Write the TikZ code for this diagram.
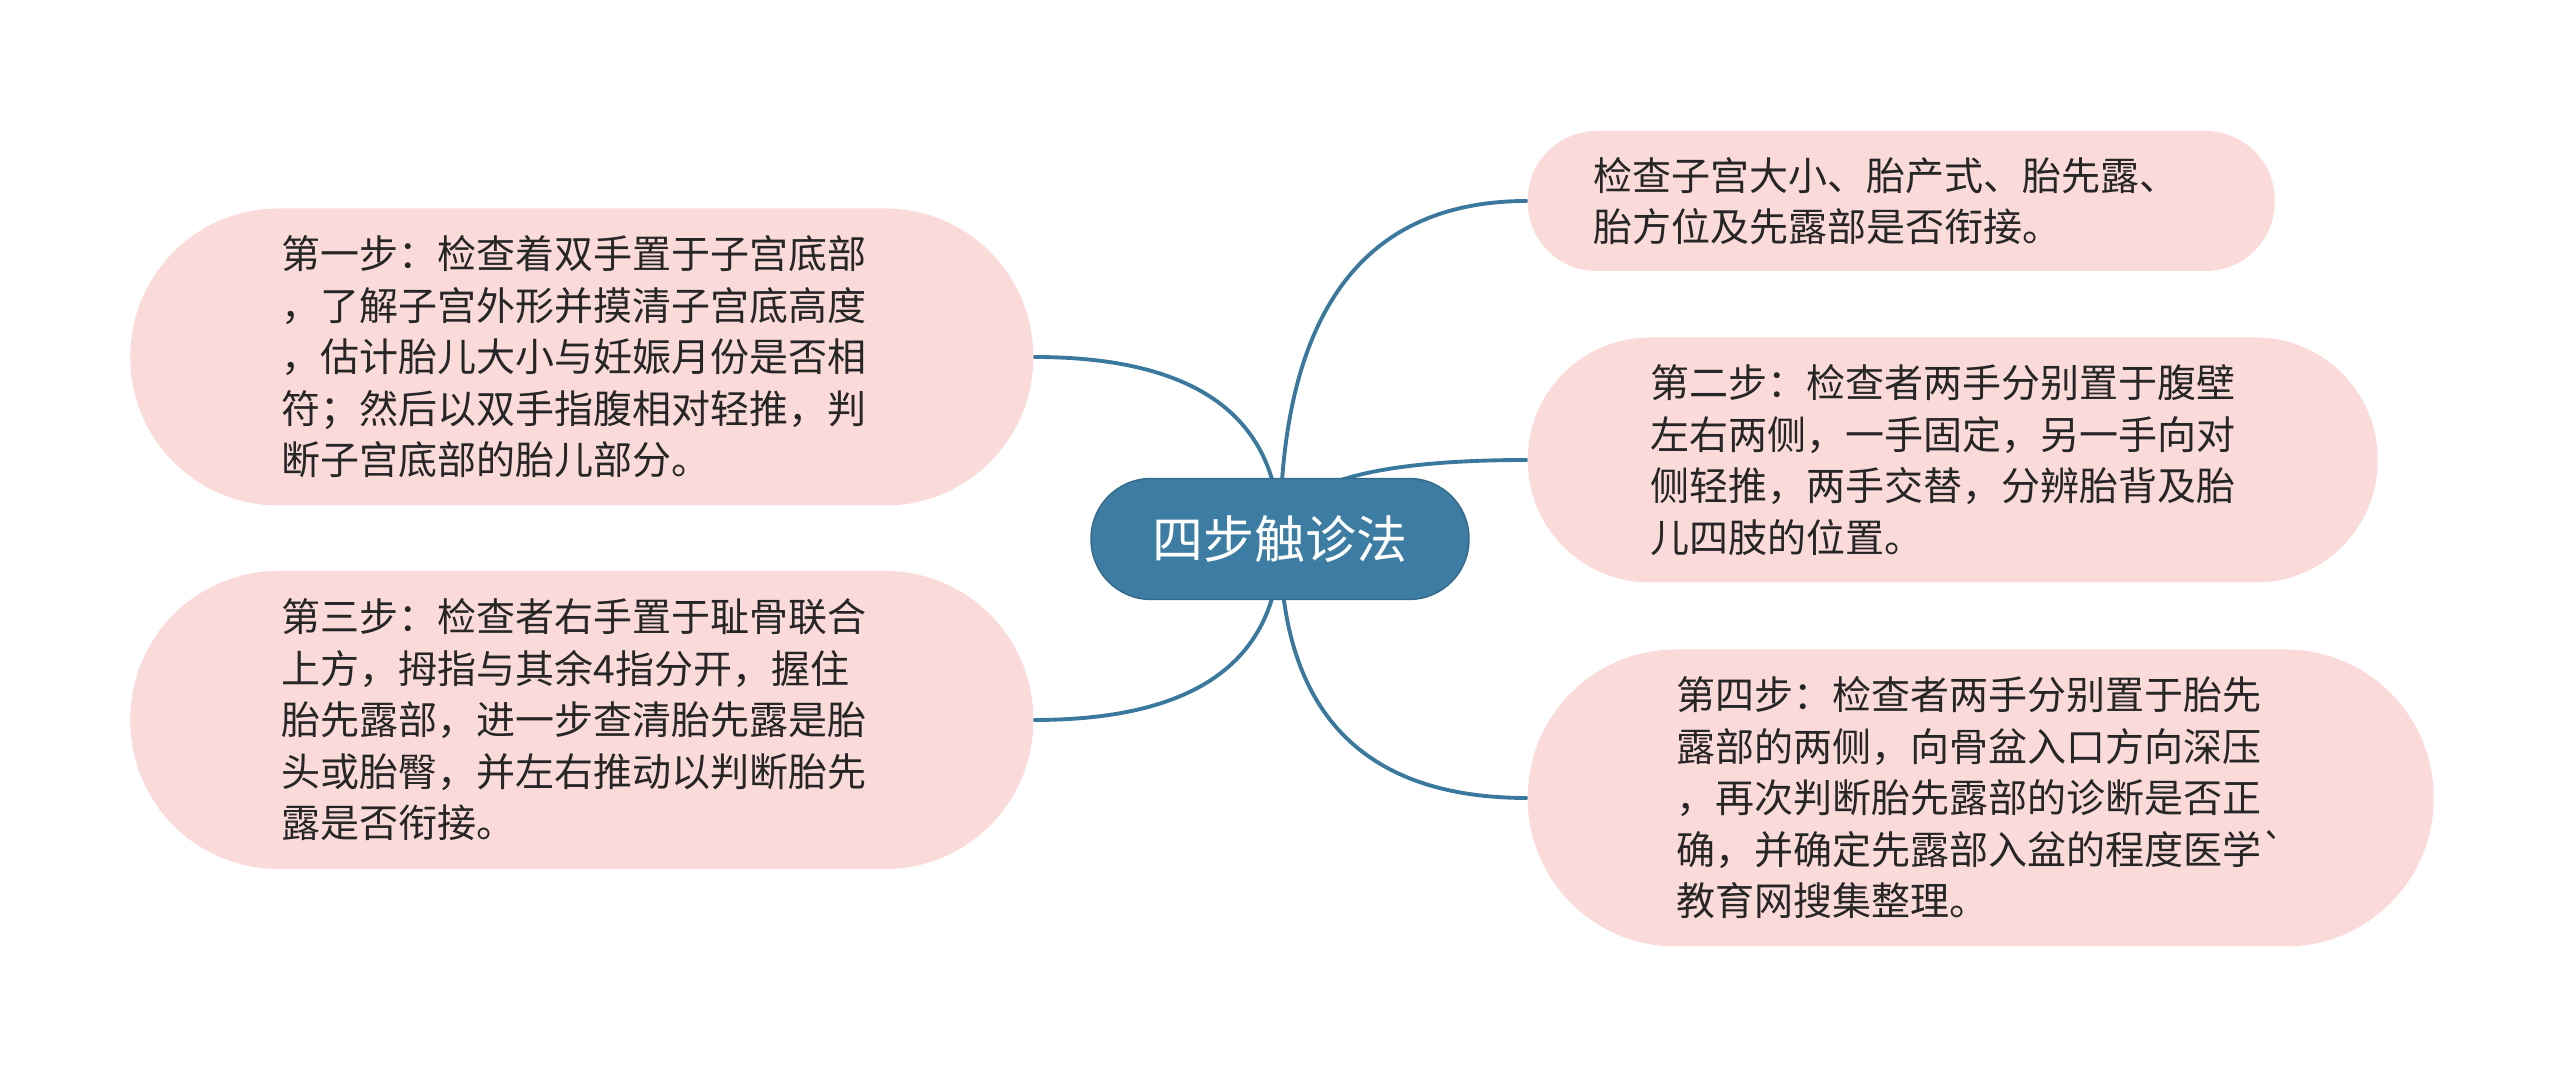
\documentclass[tikz,border=0pt]{standalone}
\usepackage{fontspec}
\setmainfont{Noto Sans CJK SC}
\newfontfamily\plaincjk{Noto Sans CJK SC}
\usetikzlibrary{calc,backgrounds}
\definecolor{hubblue}{RGB}{61,124,163}
\definecolor{linkblue}{RGB}{58,120,158}
\definecolor{pinkbg}{RGB}{251,219,218}
\definecolor{textgray}{RGB}{38,38,38}
\tikzset{
  hub/.style={fill=hubblue, draw=hubblue!85!black, line width=0.4pt, text=white,
    minimum width=3.78cm, minimum height=1.21cm, rounded corners=0.6cm,
    inner sep=0pt, font=\fontsize{14.5pt}{17pt}\selectfont},
  bubble/.style={fill=pinkbg, text=textgray, align=left, inner sep=0pt,
    font=\fontsize{11.1pt}{14.65pt}\selectfont},
  link/.style={draw=linkblue, line width=1.1pt, line cap=round}
}
\begin{document}
\begin{tikzpicture}
	\useasboundingbox (0,0) rectangle (25.6,10.77);
	
	% 1. Nút trung tâm
	\node[hub] (c) at (12.80,5.38) {四步触诊法};
	
	% 2. Các nút bên trái
	\node[bubble, anchor=east, minimum width=9.03cm, minimum height=2.97cm, rounded corners=1.48cm] (l1) at (10.34,7.20)
		{第一步：检查着双手置于子宫底部\hspace*{0.15cm}\\，了解子宫外形并摸清子宫底高度\\，估计胎儿大小与妊娠月份是否相\\符；然后以双手指腹相对轻推，判\\断子宫底部的胎儿部分。};
	\node[bubble, anchor=east, minimum width=9.03cm, minimum height=2.98cm, rounded corners=1.48cm] (l2) at (10.34,3.57)
		{第三步：检查者右手置于耻骨联合\hspace*{0.15cm}\\上方，拇指与其余4指分开，握住\\胎先露部，进一步查清胎先露是胎\\头或胎臀，并左右推动以判断胎先\\露是否衔接。};
	
	% 3. Các nút bên phải
	\node[bubble, anchor=west, minimum width=7.47cm, minimum height=1.40cm, rounded corners=0.69cm] (r1) at (15.27,8.76)
		{检查子宫大小、胎产式、胎先露、\hspace*{0.3cm}\\胎方位及先露部是否衔接。};
	\node[bubble, anchor=west, minimum width=8.50cm, minimum height=2.45cm, rounded corners=1.22cm] (r2) at (15.27,6.17)
		{第二步：检查者两手分别置于腹壁\hspace*{0.2cm}\\左右两侧，一手固定，另一手向对\\侧轻推，两手交替，分辨胎背及胎\\儿四肢的位置。};
	\node[bubble, anchor=west, minimum width=9.06cm, minimum height=2.97cm, rounded corners=1.48cm] (r3) at (15.27,2.79)
		{第四步：检查者两手分别置于胎先\\露部的两侧，向骨盆入口方向深压\\，再次判断胎先露部的诊断是否正\\确，并确定先露部入盆的程度医学{\plaincjk\symbol{96}}\\教育网搜集整理。};
	
	% 4. Đường nối (nằm dưới các nút)
	\begin{scope}[on background layer]
		\draw[link] (c.center) .. controls ($(c.center)!.667!(c.center |- l1.east)$) and ($(l1.east)!.667!(c.center |- l1.east)$) .. (l1.east);
		\draw[link] (c.center) .. controls ($(c.center)!.667!(c.center |- l2.east)$) and ($(l2.east)!.667!(c.center |- l2.east)$) .. (l2.east);
		\draw[link] (c.center) .. controls ($(c.center)!.667!(c.center |- r1.west)$) and ($(r1.west)!.667!(c.center |- r1.west)$) .. (r1.west);
		\draw[link] (c.center) .. controls ($(c.center)!.667!(c.center |- r2.west)$) and ($(r2.west)!.667!(c.center |- r2.west)$) .. (r2.west);
		\draw[link] (c.center) .. controls ($(c.center)!.667!(c.center |- r3.west)$) and ($(r3.west)!.667!(c.center |- r3.west)$) .. (r3.west);
	\end{scope}
\end{tikzpicture}
\end{document}
